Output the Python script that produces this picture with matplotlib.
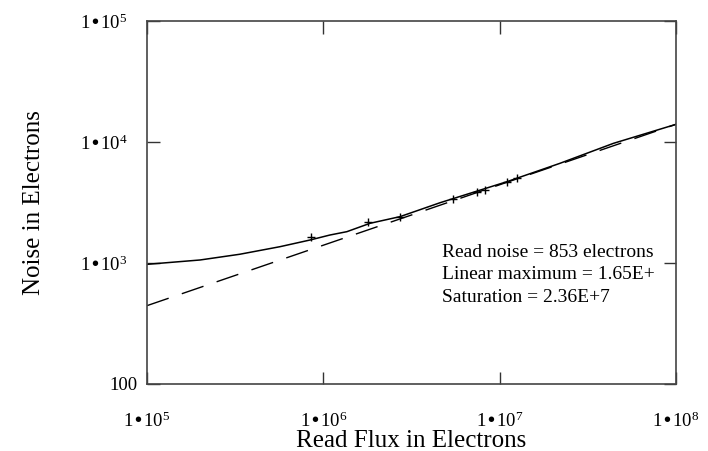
import matplotlib
matplotlib.use('Agg')
import matplotlib.pyplot as plt
import matplotlib.transforms as mtransforms

plt.rcParams['font.family'] = ['Liberation Serif', 'DejaVu Serif']
plt.rcParams['mathtext.default'] = 'regular'

flux = [1e5, 2.0e5, 3.36e5, 5.68e5, 8.41e5, 1.09e6, 1.36e6, 1.84e6, 2.72e6,
        4.59e6, 1.1e7, 2.2e7, 4.42e7, 1e8]
noise = [975, 1059, 1181, 1364, 1549, 1703, 1815, 2128, 2415,
         3148, 4700, 6670, 9750, 14000]

# Data points marked with +
pt_flux = [8.51e5, 1.80e6, 2.72e6, 5.46e6, 7.48e6, 8.26e6, 1.096e7, 1.25e7]
pt_noise = [1648, 2193, 2387, 3360, 3865, 4011, 4697, 5070]

# Shot noise line
fit_flux = [1e5, 1e8]
fit_noise = [444, 14000]

xticks = [1e5, 1e6, 1e7, 1e8]
xlabels = ['1\u202210$^{5}$', '1\u202210$^{6}$', '1\u202210$^{7}$', '1\u202210$^{8}$']
yticks = [100, 1e3, 1e4, 1e5]
ylabels = ['100', '1\u202210$^{3}$', '1\u202210$^{4}$', '1\u202210$^{5}$']

notes = ['Read noise = 853 electrons',
         'Linear maximum = 1.65E+',
         'Saturation = 2.36E+7']

fig = plt.figure(figsize=(7.08, 4.51), dpi=100)
ax = fig.add_axes([0.2076, 0.1486, 0.7472, 0.8048])

ax.plot(flux, noise, color='black', lw=1.1)
ax.plot(fit_flux, fit_noise, color='black', lw=1.0, dashes=(16.5, 10))
ax.plot(pt_flux, pt_noise, '+', color='black', ms=6, mew=1.0)

ax.set_xscale('log')
ax.set_yscale('log')
ax.set_xlim(1e5, 1e8)
ax.set_ylim(100, 1e5)
ax.minorticks_off()
ax.set_xticks(xticks, xlabels)
ax.set_yticks(yticks, ylabels)
ax.tick_params(direction='in', length=9, width=1.0, color='#333333',
               top=True, right=True, labelsize=13.5)
ax.tick_params(axis='x', pad=20)
ax.tick_params(axis='y', pad=14)
for s in ax.spines.values():
    s.set_color('#444444')
    s.set_linewidth(1.2)

# the "100" label sits closer to the axis
lab = ax.get_yticklabels()[0]
lab.set_transform(lab.get_transform() +
                  mtransforms.ScaledTranslation(0.10, 0, fig.dpi_scale_trans))

ax.set_xlabel('Read Flux in Electrons', fontsize=18)
ax.xaxis.label.set_va('baseline')
ax.xaxis.set_label_coords(0.5, -0.1727)
ax.set_ylabel('Noise in Electrons', fontsize=18)
ax.yaxis.label.set_va('baseline')
ax.yaxis.set_label_coords(-0.203, 0.5)

ys = [0.3507, 0.289, 0.226]
for t, y in zip(notes, ys):
    ax.text(0.557, y, t, transform=ax.transAxes, fontsize=14, va='baseline')

fig.savefig('out.png', dpi=100)
